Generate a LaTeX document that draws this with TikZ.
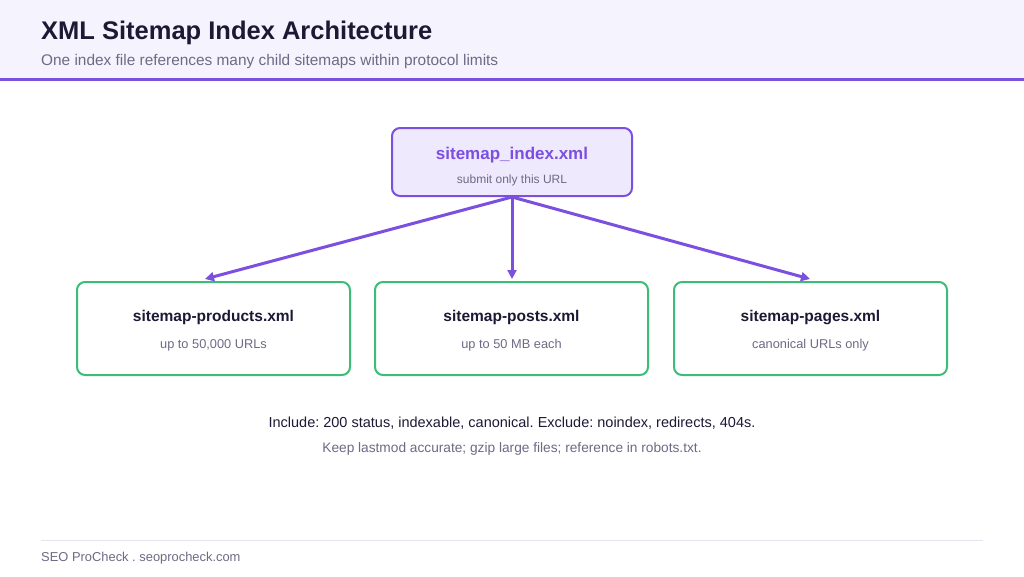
\documentclass[tikz,border=0pt]{standalone}
\usepackage{fontspec}
\setmainfont{Liberation Sans}
\usetikzlibrary{arrows.meta}
\frenchspacing
\definecolor{hdrbg}{HTML}{F5F3FD}
\definecolor{purp}{HTML}{7B4FE0}
\definecolor{purpfill}{HTML}{EEE9FC}
\definecolor{dark}{HTML}{1C1934}
\definecolor{gray1}{HTML}{6E6A85}
\definecolor{grn}{HTML}{3DBB78}
\definecolor{rule}{HTML}{E6E4EE}
\tikzset{
  idxbox/.style={draw=purp, fill=purpfill, line width=2pt, rounded corners=8pt, minimum width=240pt, minimum height=68pt, inner sep=0pt},
  childbox/.style={draw=grn, fill=white, line width=2pt, rounded corners=8pt, minimum width=273pt, minimum height=93pt, inner sep=0pt},
  conn/.style={draw=purp, line width=3pt, -{Triangle[length=9pt,width=9pt]}},
  boxtitle/.style={font=\fontsize{15.5}{18}\selectfont\bfseries, text=dark, inner sep=0pt, anchor=base},
  boxsub/.style={font=\fontsize{12.8}{15}\selectfont, text=gray1, inner sep=0pt, anchor=base},
}
\begin{document}
\begin{tikzpicture}[x=1pt,y=-1pt]
\useasboundingbox (0,0) rectangle (1024,576);
\fill[white] (0,0) rectangle (1024,576);
\fill[hdrbg] (0,0) rectangle (1024,78);
\fill[purp] (0,77.5) rectangle (1024,80.5);
\node[anchor=base west, inner sep=0pt, font=\fontsize{25.5}{30}\selectfont\bfseries, text=dark] (title) at (41,39.5) {XML Sitemap Index Architecture};
\node[anchor=base west, inner sep=0pt, font=\fontsize{15.4}{18}\selectfont, text=gray1] (subtitle) at (41,65) {One index file references many child sitemaps within protocol limits};

\node[idxbox] (idx) at (512,162) {};
\node[boxtitle, text=purp, font=\fontsize{17}{20}\selectfont\bfseries] (idxt) at (512,159.5) {sitemap\_index.xml};
\node[boxsub, font=\fontsize{12}{14}\selectfont] (idxs) at (512,183.5) {submit only this URL};

\node[childbox] (c1) at (213.5,328.5) {};
\node[childbox] (c2) at (511.5,328.5) {};
\node[childbox] (c3) at (810.5,328.5) {};
\node[boxtitle] (c1t) at (213.5,321.5) {sitemap-products.xml};
\node[boxsub] (c1s) at (213.5,348.5) {up to 50,000 URLs};
\node[boxtitle] (c2t) at (511.5,321.5) {sitemap-posts.xml};
\node[boxsub] (c2s) at (511.5,348.5) {up to 50 MB each};
\node[boxtitle] (c3t) at (810.5,321.5) {sitemap-pages.xml};
\node[boxsub] (c3s) at (810.5,348.5) {canonical URLs only};

\coordinate (o) at (512,197);
\coordinate (e1) at (205,279);
\coordinate (e2) at (512,279);
\coordinate (e3) at (810,279);
\draw[conn] (o) -- (e1);
\draw[conn] (o) -- (e2);
\draw[conn] (o) -- (e3);

\node[anchor=base, inner sep=0pt, font=\fontsize{14.5}{17}\selectfont, text=dark] (inc) at (512,427.5) {Include: 200 status, indexable, canonical. Exclude: noindex, redirects, 404s.};
\node[anchor=base, inner sep=0pt, font=\fontsize{13.7}{16}\selectfont, text=gray1] (keep) at (512,452.5) {Keep lastmod accurate; gzip large files; reference in robots.txt.};

\draw[rule, line width=1pt] (41,540) -- (983,540);
\node[anchor=base west, inner sep=0pt, font=\fontsize{12.9}{15}\selectfont, text=gray1] (foot) at (41,561.5) {SEO ProCheck . seoprocheck.com};
\end{tikzpicture}
\end{document}
